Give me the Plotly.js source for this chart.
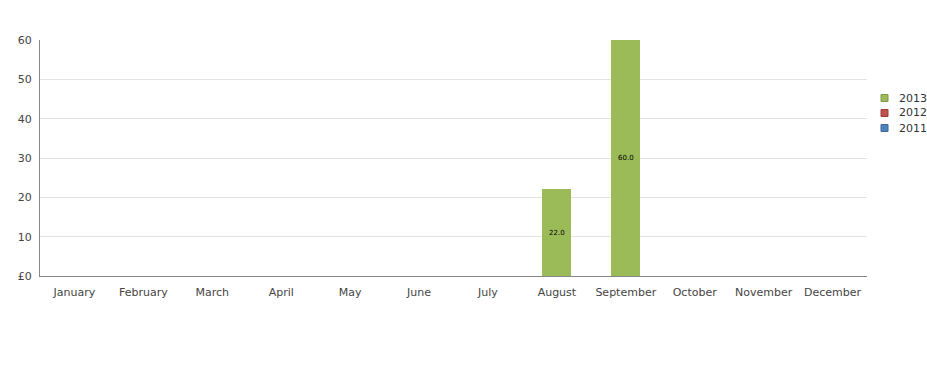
<!DOCTYPE html>
<html>
<head>
<meta charset="utf-8">
<script src="https://cdn.plot.ly/plotly-3.0.1.min.js"></script>
<style>html,body{margin:0;padding:0;background:#fff;}#chart{width:927px;height:368px;}</style>
</head>
<body>
<div id="chart"></div>
<script>
var months = ["January","February","March","April","May","June","July","August","September","October","November","December"];
var values2013 = [0,0,0,0,0,0,0,22,60,0,0,0];
var values2012 = [0,0,0,0,0,0,0,0,0,0,0,0];
var values2011 = [0,0,0,0,0,0,0,0,0,0,0,0];
var seriesNames = ["2013","2012","2011"];
var seriesColors = ["#9BBB59","#C0504D","#4F81BD"];
var seriesBorders = ["#7E9A45","#9E3E3B","#3D6899"];
var yTickVals = [0,10,20,30,40,50,60];
var yTickText = ["£0","10","20","30","40","50","60"];

var allValues = [values2013, values2012, values2011];
var traces = allValues.map(function(vals, i){
  return {
    type: 'bar',
    name: seriesNames[i],
    x: months,
    y: vals,
    marker: {color: seriesColors[i]},
    text: vals.map(function(v){ return v > 0 ? v.toFixed(1) : ''; }),
    textposition: 'inside',
    insidetextanchor: 'middle',
    textfont: {size: 7, color: '#000', family: 'DejaVu Sans'},
    hoverinfo: 'x+y+name',
    showlegend: false
  };
});

// plot area geometry (pixels) used to place a custom legend outside the plot
var L = 40, T = 40, W = 827, H = 236;
function px2x(p){ return (p - L) / W; }
function py2y(p){ return (T + H - p) / H; }

var shapes = [], annotations = [];
seriesNames.forEach(function(name, i){
  var cy = 98 + 15 * i;
  shapes.push({
    type: 'rect', xref: 'paper', yref: 'paper',
    x0: px2x(881), x1: px2x(888), y0: py2y(cy + 3.5), y1: py2y(cy - 3.5),
    fillcolor: seriesColors[i], line: {color: seriesBorders[i], width: 1}
  });
  annotations.push({
    xref: 'paper', yref: 'paper', x: px2x(897), y: py2y(cy),
    xanchor: 'left', yanchor: 'middle', showarrow: false,
    text: name, font: {size: 11, color: '#333', family: 'DejaVu Sans'}
  });
});

var layout = {
  width: 927, height: 368,
  margin: {l: 40, r: 60, t: 40, b: 92},
  paper_bgcolor: '#fff', plot_bgcolor: '#fff',
  barmode: 'stack',
  bargap: 0.58,
  font: {family: 'DejaVu Sans', size: 11, color: '#444'},
  xaxis: {
    type: 'category',
    showline: true, linecolor: '#888', linewidth: 1,
    showgrid: false, ticks: '', ticklabelstandoff: 6,
    tickfont: {size: 11, color: '#444'},
    automargin: false
  },
  yaxis: {
    range: [0, 60],
    tickvals: yTickVals, ticktext: yTickText,
    showline: true, linecolor: '#888', linewidth: 1,
    showgrid: true, gridcolor: '#e3e3e3', gridwidth: 1,
    zeroline: false, ticks: '', ticklabelstandoff: 5,
    tickfont: {size: 11, color: '#444'},
    automargin: false
  },
  showlegend: false,
  shapes: shapes,
  annotations: annotations
};

Plotly.newPlot('chart', traces, layout, {displayModeBar: false, staticPlot: true});
</script>
</body>
</html>
